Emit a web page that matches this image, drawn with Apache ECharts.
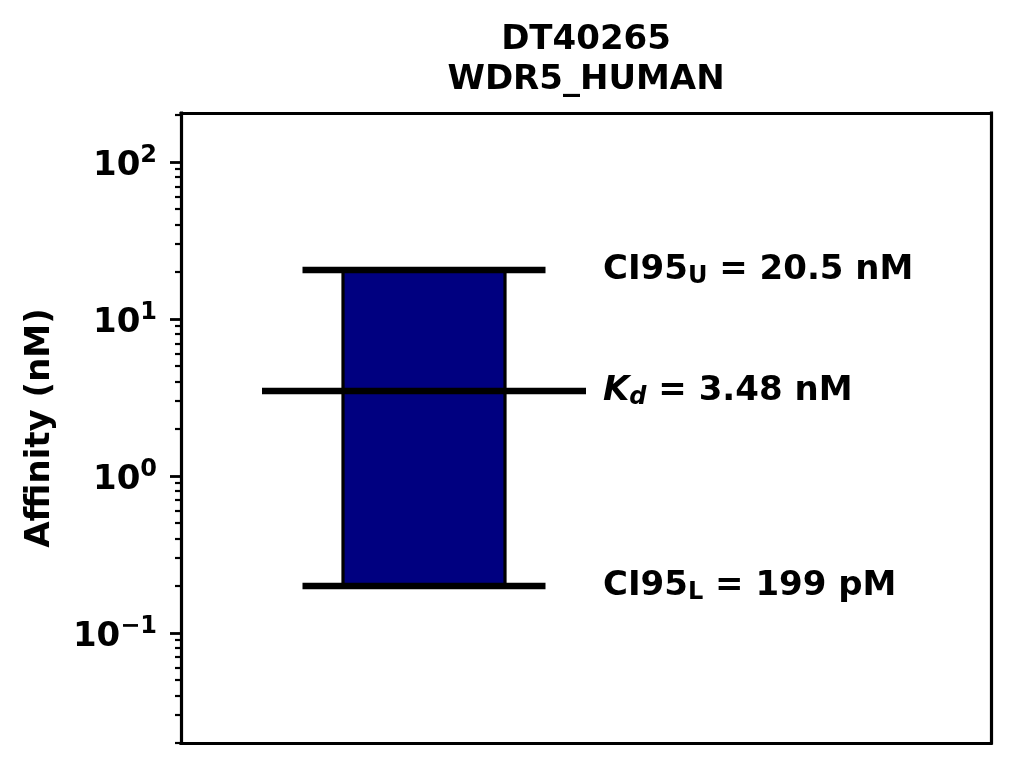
<!DOCTYPE html>
<html>
<head>
<meta charset="utf-8">
<script src="https://cdn.jsdelivr.net/npm/echarts@6/dist/echarts.min.js"></script>
<style>
html,body{margin:0;padding:0;background:#fff;}
#chart{width:1014px;height:768px;}
</style>
</head>
<body>
<div id="chart"></div>
<script>
// ---- data ----
const titleLines = ['DT40265', 'WDR5_HUMAN'];
const categories = ['DT40265'];
const kdValues = [3.48];      // nM
const ciLower = [0.199];      // nM
const ciUpper = [20.5];       // nM
const kdLabels = ['3.48 nM'];
const lowerLabels = ['199 pM'];
const upperLabels = ['20.5 nM'];
const tickExponents = [-1, 0, 1, 2];
const yAxisName = 'Affinity (nM)';

// ---- derived axis range (log10 space) ----
const yMin = Math.log10(ciLower[0] / 10);
const yMax = Math.log10(ciUpper[0] * 10);
const majorTicks = tickExponents.slice();
const minorTicks = [];
for (let n = -3; n <= 3; n++) {
  for (let k = 2; k <= 9; k++) {
    const v = Math.log10(k) + n;
    if (v > yMin && v < yMax) minorTicks.push(v);
  }
}

const FONT = 'DejaVu Sans';
const FS = 34;
const SUB = 24;
function frame() {
  return {show: true, onZero: false, lineStyle: {color: '#000', width: 3.2, cap: 'square'}};
}

const seriesData = categories.map((c, i) => [
  i,
  Math.log10(ciLower[i]),
  Math.log10(ciUpper[i]),
  Math.log10(kdValues[i])
]);

const chart = echarts.init(document.getElementById('chart'), null, {renderer: 'canvas'});

const baseTxt = {fontFamily: FONT, fontWeight: 'bold', fontSize: FS, fill: '#000'};
const richText = {
  b: Object.assign({}, baseTxt),
  i: Object.assign({}, baseTxt, {fontStyle: 'italic'}),
  s: Object.assign({}, baseTxt, {fontSize: SUB, padding: [14, 0, 0, 0]}),
  si: Object.assign({}, baseTxt, {fontSize: SUB, fontStyle: 'italic', padding: [14, 0, 0, 0]})
};

function renderItem(params, api) {
  const lo = api.value(1), hi = api.value(2), kd = api.value(3);
  const barL = 0.2, barR = 0.4;
  const ciL = 0.15, ciR = 0.45;
  const kdL = 0.1, kdR = 0.5;
  const txtX = 0.521;
  const pLo = api.coord([barL, lo]);
  const pHi = api.coord([barR, hi]);
  const lineStyle = {stroke: '#000', lineWidth: 6.5, lineCap: 'butt'};
  const ciLoA = api.coord([ciL, lo]), ciLoB = api.coord([ciR, lo]);
  const ciHiA = api.coord([ciL, hi]), ciHiB = api.coord([ciR, hi]);
  const kdA = api.coord([kdL, kd]), kdB = api.coord([kdR, kd]);
  const tHi = api.coord([txtX, hi]), tKd = api.coord([txtX, kd]), tLo = api.coord([txtX, lo]);
  const i = params.dataIndex;
  return {
    type: 'group',
    children: [
      {type: 'rect', shape: {x: pLo[0], y: pHi[1], width: pHi[0] - pLo[0], height: pLo[1] - pHi[1]},
       style: {fill: '#000080', stroke: '#000', lineWidth: 3.2}},
      {type: 'line', shape: {x1: ciHiA[0], y1: ciHiA[1], x2: ciHiB[0], y2: ciHiB[1]}, style: lineStyle},
      {type: 'line', shape: {x1: kdA[0], y1: kdA[1], x2: kdB[0], y2: kdB[1]}, style: lineStyle},
      {type: 'line', shape: {x1: ciLoA[0], y1: ciLoA[1], x2: ciLoB[0], y2: ciLoB[1]}, style: lineStyle},
      {type: 'text', x: tHi[0], y: tHi[1],
       style: {text: '{b|CI95}{s|U}{b| = ' + upperLabels[i] + '}', rich: richText, align: 'left', verticalAlign: 'middle'}},
      {type: 'text', x: tKd[0], y: tKd[1],
       style: {text: '{i|K}{si|d}{b| = ' + kdLabels[i] + '}', rich: richText, align: 'left', verticalAlign: 'middle'}},
      {type: 'text', x: tLo[0], y: tLo[1],
       style: {text: '{b|CI95}{s|L}{b| = ' + lowerLabels[i] + '}', rich: richText, align: 'left', verticalAlign: 'middle'}}
    ]
  };
}

const option = {
  backgroundColor: '#fff',
  animation: false,
  title: {
    text: titleLines.join('\n'),
    left: 586,
    top: 20,
    padding: 0,
    textAlign: 'center',
    textStyle: {fontFamily: FONT, fontWeight: 'bold', fontSize: FS, color: '#000', lineHeight: 40}
  },
  grid: {
    left: 181, right: 23, top: 113, bottom: 25,
    show: false
  },
  xAxis: [
    {type: 'value', min: 0, max: 1, position: 'bottom', axisLine: frame(),
     axisTick: {show: false}, axisLabel: {show: false}, splitLine: {show: false}},
    {type: 'value', min: 0, max: 1, position: 'top', axisLine: frame(),
     axisTick: {show: false}, axisLabel: {show: false}, splitLine: {show: false}}
  ],
  yAxis: [
    {
      type: 'value', min: yMin, max: yMax, position: 'left',
      name: yAxisName, nameLocation: 'middle', nameRotate: 90, nameGap: 124,
      nameTextStyle: {fontFamily: FONT, fontWeight: 'bold', fontSize: FS, color: '#000'},
      axisLine: frame(),
      splitLine: {show: false},
      axisTick: {show: true, customValues: majorTicks, length: 11, lineStyle: {color: '#000', width: 2.8}},
      axisLabel: {
        show: true, customValues: majorTicks, margin: 24,
        formatter: function (v) {
          const e = Math.round(v);
          const s = e < 0 ? '\u2212' + Math.abs(e) : String(e);
          return '{b|10}{p|' + s + '}';
        },
        rich: {
          b: {fontFamily: FONT, fontWeight: 'bold', fontSize: FS, color: '#000', padding: [8, 0, 0, 0]},
          p: {fontFamily: FONT, fontWeight: 'bold', fontSize: SUB, color: '#000', padding: [0, 0, 12, 0]}
        }
      }
    },
    {
      type: 'value', min: yMin, max: yMax, position: 'left',
      axisLine: {show: false},
      splitLine: {show: false},
      axisLabel: {show: false},
      axisTick: {show: true, customValues: minorTicks, length: 6, lineStyle: {color: '#000', width: 2.2}}
    },
    {
      type: 'value', min: yMin, max: yMax, position: 'right',
      axisLine: frame(),
      splitLine: {show: false},
      axisLabel: {show: false},
      axisTick: {show: false}
    }
  ],
  series: [{
    type: 'custom',
    renderItem: renderItem,
    data: seriesData,
    encode: {x: 0, y: [1, 2, 3]},
    xAxisIndex: 0,
    yAxisIndex: 0,
    clip: false
  }]
};
chart.setOption(option);
</script>
</body>
</html>
